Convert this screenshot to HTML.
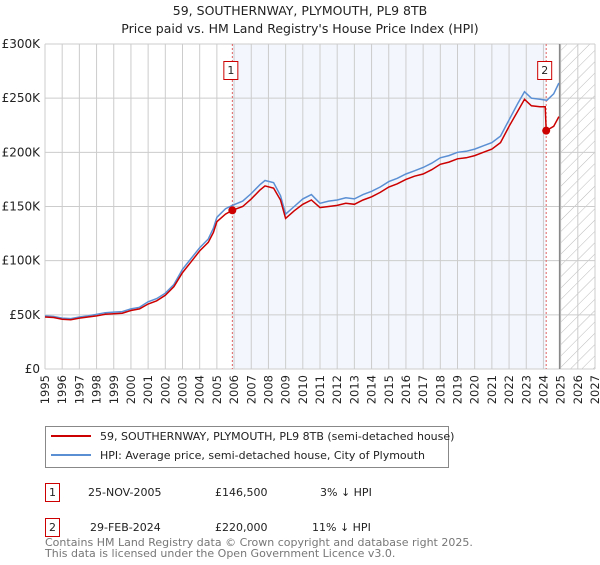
<!DOCTYPE html>
<html><head><meta charset="utf-8"><style>
body{margin:0;background:#fff;font-family:"Liberation Sans","DejaVu Sans",sans-serif;}
svg text{font-family:"DejaVu Sans","Liberation Sans",sans-serif;}
</style></head><body>
<svg id="c" width="600" height="560" xmlns="http://www.w3.org/2000/svg">
<defs><pattern id="h" width="8" height="8" patternUnits="userSpaceOnUse" patternTransform="rotate(45)"><line x1="0" y1="0" x2="0" y2="8" stroke="#bbb" stroke-width="1"/></pattern></defs>
<text x="300" y="15" text-anchor="middle" font-size="12.5" fill="#222">59, SOUTHERNWAY, PLYMOUTH, PL9 8TB</text>
<text x="300" y="33" text-anchor="middle" font-size="12.5" fill="#222">Price paid vs. HM Land Registry's House Price Index (HPI)</text>
<g id="plot"></g>
<g>
<rect x="45.5" y="426.5" width="403" height="41" fill="#fff" stroke="#888"/>
<line x1="51" y1="436" x2="91" y2="436" stroke="#cc0000" stroke-width="2"/>
<text x="100" y="440" font-size="11" fill="#222">59, SOUTHERNWAY, PLYMOUTH, PL9 8TB (semi-detached house)</text>
<line x1="51" y1="455" x2="91" y2="455" stroke="#5b8fd4" stroke-width="2"/>
<text x="100" y="459" font-size="11" fill="#222">HPI: Average price, semi-detached house, City of Plymouth</text>
</g>
<g font-size="11" fill="#222">
<rect x="45.5" y="483.5" width="14" height="18" fill="#fff" stroke="#cc0000"/><text x="52.5" y="496" text-anchor="middle">1</text>
<text x="88" y="496">25-NOV-2005</text><text x="215" y="496">£146,500</text><text x="320" y="496">3% ↓ HPI</text>
<rect x="45.5" y="518.5" width="14" height="18" fill="#fff" stroke="#cc0000"/><text x="52.5" y="531" text-anchor="middle">2</text>
<text x="90" y="531">29-FEB-2024</text><text x="215" y="531">£220,000</text><text x="312" y="531">11% ↓ HPI</text>
</g>
<text x="45" y="546" font-size="11" fill="#777">Contains HM Land Registry data © Crown copyright and database right 2025.</text>
<text x="45" y="557" font-size="11" fill="#777">This data is licensed under the Open Government Licence v3.0.</text>
</svg>
<script>
const hpiYears=[1995.0,1995.5,1996.0,1996.5,1997.0,1997.5,1998.0,1998.5,1999.0,1999.5,2000.0,2000.5,2001.0,2001.5,2002.0,2002.5,2003.0,2003.5,2004.0,2004.5,2004.8,2005.0,2005.5,2005.9,2006.5,2007.0,2007.5,2007.8,2008.3,2008.7,2009.0,2009.5,2010.0,2010.5,2011.0,2011.5,2012.0,2012.5,2013.0,2013.5,2014.0,2014.5,2015.0,2015.5,2016.0,2016.5,2017.0,2017.5,2018.0,2018.5,2019.0,2019.5,2020.0,2020.5,2021.0,2021.5,2022.0,2022.5,2022.9,2023.3,2023.8,2024.2,2024.6,2024.9];
const hpiValues=[49,48.5,47,46.5,48,49,50.5,52,52.5,53,55.5,57,62,65,70,78,92,102,112,120,130,140,148,151,155,162,170,174,172,160,143,150,157,161,153,155,156,158,157,161,164,168,173,176,180,183,186,190,195,197,200,201,203,206,209,215,230,245,256,250,249,248,254,264];
const propYears=[1995.0,1995.5,1996.0,1996.5,1997.0,1997.5,1998.0,1998.5,1999.0,1999.5,2000.0,2000.5,2001.0,2001.5,2002.0,2002.5,2003.0,2003.5,2004.0,2004.5,2004.8,2005.0,2005.5,2005.9,2006.5,2007.0,2007.5,2007.8,2008.3,2008.7,2009.0,2009.5,2010.0,2010.5,2011.0,2011.5,2012.0,2012.5,2013.0,2013.5,2014.0,2014.5,2015.0,2015.5,2016.0,2016.5,2017.0,2017.5,2018.0,2018.5,2019.0,2019.5,2020.0,2020.5,2021.0,2021.5,2022.0,2022.5,2022.9,2023.3,2023.8,2024.1,2024.16,2024.6,2024.9];
const propValues=[48,47.5,46,45.5,47,48,49,50.5,51,51.5,54,55.5,60,63,68,76,89,99,109,117,126,136,143,146.5,150,157,165,169,167,156,139,146,152,156,149,150,151,153,152,156,159,163,168,171,175,178,180,184,189,191,194,195,197,200,203,209,224,238,249,243,242,242,220,224,233];
const sales=[{n:"1",x:2005.9,v:146.5},{n:"2",x:2024.16,v:220}];
const yTicks=[0,50,100,150,200,250,300];
const yLabels=["£0","£50K","£100K","£150K","£200K","£250K","£300K"];
const xTicks=[];for(let y=1995;y<=2027;y++)xTicks.push(y);
const L=45,R=595,T=44,B=369,X0=1995,X1=2027;
const sx=v=>L+(v-X0)/(X1-X0)*(R-L);
const sy=v=>B-v/300*(B-T);
const NS="http://www.w3.org/2000/svg";
const g=document.getElementById('plot');
function mk(t,a,p){const e=document.createElementNS(NS,t);for(const k in a)e.setAttribute(k,a[k]);(p||g).appendChild(e);return e;}
let e=mk('rect',{x:sx(2005.9),y:T,width:sx(2024.16)-sx(2005.9),height:B-T,fill:'#eef3fc',opacity:'0.7'});


e=mk('rect',{x:sx(2025),y:T,width:R-sx(2025),height:B-T,fill:'url(#h)'});


xTicks.forEach((y,i)=>{
 const l=mk('line',{x1:sx(y),y1:T,x2:sx(y),y2:B,stroke:'#ccc','stroke-width':1});
 
 
 const t=mk('text',{x:0,y:0,'font-size':11.5,fill:'#222','text-anchor':'end',transform:`translate(${sx(y)+4},${B+6}) rotate(-90)`});
 t.textContent=y;
 
 
});
yTicks.forEach((v,i)=>{
 const l=mk('line',{x1:L,y1:sy(v),x2:R,y2:sy(v),stroke:'#ccc','stroke-width':1});
 
 
 const t=mk('text',{x:L-5,y:sy(v)+4,'font-size':12,fill:'#222','text-anchor':'end'});
 t.textContent=yLabels[i];
 
 
});
e=mk('line',{x1:sx(2025)-1,y1:T,x2:sx(2025)-1,y2:B,stroke:'#888','stroke-width':1.5});


sales.forEach(s=>{
 const l=mk('line',{x1:sx(s.x),y1:T,x2:sx(s.x),y2:B,stroke:'#e06060','stroke-width':1,'stroke-dasharray':'2,2'});
 
 
});
function path(xs,vs,c,n){const d=xs.map((x,i)=>(i?'L':'M')+sx(x).toFixed(1)+','+sy(vs[i]).toFixed(1)).join('');const p=mk('path',{d:d,fill:'none',stroke:c,'stroke-width':1.5});
 
 }
path(hpiYears,hpiValues,'#5b8fd4','hpi-line');
path(propYears,propValues,'#cc0000','property-price-line');
sales.forEach(s=>{
 const c=mk('circle',{cx:sx(s.x),cy:sy(s.v),r:4,fill:'#cc0000'});
 
 
 const r=mk('rect',{x:sx(s.x)-8.5,y:61.5,width:14,height:18,fill:'#fff',stroke:'#cc0000'});
 
 
 const t=mk('text',{x:sx(s.x)-1.5,y:74,'font-size':11,fill:'#222','text-anchor':'middle'});
 t.textContent=s.n;
 
 
});
</script>
</body></html>
